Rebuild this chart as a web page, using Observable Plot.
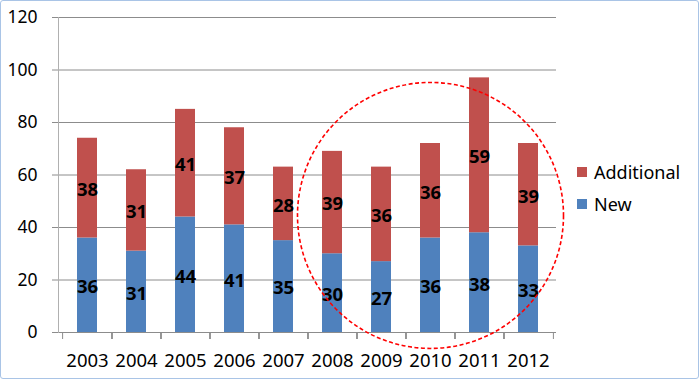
<!DOCTYPE html>
<html>
<head>
<meta charset="utf-8">
<script src="https://cdn.jsdelivr.net/npm/d3@7"></script>
<script src="https://cdn.jsdelivr.net/npm/@observablehq/plot@0.6"></script>
<style>
  html, body { margin: 0; padding: 0; background: #fff; }
  #wrap { position: relative; width: 700px; height: 380px; overflow: hidden; font-family: "Noto Sans", sans-serif; }
  #border { position: absolute; left: 0; top: 0; width: 699px; height: 379px; box-sizing: border-box; border: 1px solid #a9c4e6; border-radius: 3px; pointer-events: none; }
  #legend { position: absolute; left: 577px; top: 156px; font-size: 18px; color: #000; line-height: 32px; }
  .li { display: flex; align-items: center; white-space: nowrap; }
  .sw { width: 10px; height: 10px; margin-right: 7px; display: inline-block; }
</style>
</head>
<body>
<div id="wrap">
  <div id="chart"></div>
  <div id="legend"></div>
  <div id="border"></div>
</div>
<script>
const years = ["2003","2004","2005","2006","2007","2008","2009","2010","2011","2012"];
const newValues = [36, 31, 44, 41, 35, 30, 27, 36, 38, 33];
const additionalValues = [38, 31, 41, 37, 28, 39, 36, 36, 59, 39];
const seriesNames = ["New", "Additional"];
const seriesColors = ["#4f81bd", "#c0504d"];
const yTicks = [0, 20, 40, 60, 80, 100, 120];
const highlightYear = "2010";
const highlightValue = 44.6;

const data = [];
years.forEach((y, i) => {
  data.push({year: y, series: "New", value: newValues[i]});
  data.push({year: y, series: "Additional", value: additionalValues[i]});
});

const W = 700, H = 380, mL = 58, mR = 144;
const half = (W - mL - mR) / years.length / 2;
const gridColor = "#8c8c8c";

const chart = Plot.plot({
  width: W, height: H,
  marginLeft: mL, marginRight: mR, marginTop: 17, marginBottom: 48,
  style: {fontFamily: "Noto Sans, sans-serif", background: "transparent", overflow: "visible"},
  x: {domain: years, paddingInner: 0.6, paddingOuter: 0.3, label: null},
  y: {domain: [0, 120], label: null},
  color: {domain: seriesNames, range: seriesColors},
  marks: [
    Plot.ruleY(yTicks, {stroke: gridColor, strokeWidth: 1}),
    Plot.frame({anchor: "left", stroke: "#b0b0b0"}),
    Plot.axisY({ticks: yTicks, tickSize: 6, tickPadding: 15, stroke: gridColor, fontSize: 17.5, color: "#000", label: null}),
    Plot.axisX({tickSize: 0, tickPadding: 21, fontSize: 18.5, color: "#000", label: null}),
    Plot.axisX({tickSize: 7, tickFormat: () => "", dx: -half, stroke: gridColor, label: null}),
    Plot.axisX({tickSize: 7, tickFormat: () => "", dx: half, stroke: gridColor, label: null}),
    Plot.barY(data, {x: "year", y: "value", fill: "series", order: seriesNames}),
    Plot.text(data, Plot.stackY({x: "year", y: "value", z: "series", order: seriesNames, text: "value", fontSize: 18.5, fontWeight: "bold", fill: "#000", dy: 2})),
    Plot.dot([{year: highlightYear, value: highlightValue}], {x: "year", y: "value", r: 133, fill: "none", stroke: "#ff0000", strokeWidth: 1.6, strokeDasharray: "4,2.5"})
  ]
});
document.getElementById("chart").appendChild(chart);

const legend = document.getElementById("legend");
[1, 0].forEach(i => {
  const row = document.createElement("div");
  row.className = "li";
  const sw = document.createElement("span");
  sw.className = "sw";
  sw.style.background = seriesColors[i];
  row.appendChild(sw);
  row.appendChild(document.createTextNode(seriesNames[i]));
  legend.appendChild(row);
});
</script>
</body>
</html>
